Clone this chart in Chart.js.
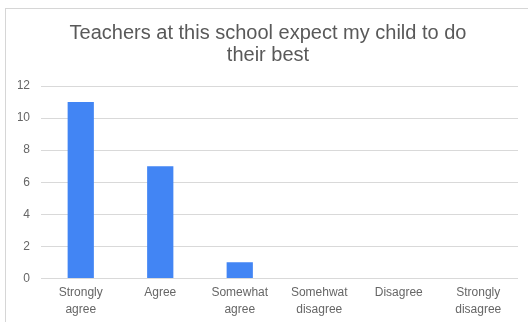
<!DOCTYPE html>
<html>
<head>
<meta charset="utf-8">
<script src="https://cdn.jsdelivr.net/npm/chart.js@4"></script>
<style>
  html, body { margin: 0; padding: 0; background: #fff; }
  #wrap { position: relative; width: 528px; height: 322px; overflow: hidden; }
  #frame { position: absolute; left: 5px; top: 8px; width: 600px; height: 400px; border: 1px solid #d6d6d6; box-sizing: border-box; }
  canvas { position: absolute; left: 0; top: 0; }
</style>
</head>
<body>
<div id="wrap">
  <div id="frame"></div>
  <canvas id="chart" width="528" height="322"></canvas>
</div>
<script>
// chart data
const titleLines = ['Teachers at this school expect my child to do', 'their best'];
const categories = [
    ['Strongly', 'agree'],
    ['Agree'],
    ['Somewhat', 'agree'],
    ['Somehwat', 'disagree'],
    ['Disagree'],
    ['Strongly', 'disagree']
];
const counts = [11, 7, 1, 0, 0, 0];
const yTicks = [0, 2, 4, 6, 8, 10, 12];

const font = "'Liberation Sans', Arial, sans-serif";

const ctx = document.getElementById('chart').getContext('2d');
new Chart(ctx, {
    type: 'bar',
    data: {
        labels: categories,
        datasets: [{
            data: counts,
            backgroundColor: '#4285F4',
            borderWidth: 0,
            categoryPercentage: 1,
            barPercentage: 0.33
        }]
    },
    options: {
        responsive: false,
        animation: false,
        layout: { padding: { left: 18, right: 10, top: 14, bottom: -2 } },
        plugins: {
            legend: { display: false },
            tooltip: { enabled: false },
            title: {
                display: true,
                text: titleLines,
                color: '#595959',
                font: { family: font, size: 20, weight: 'normal', lineHeight: 1.1 },
                padding: { top: 8, bottom: 20 }
            }
        },
        scales: {
            x: {
                grid: { display: false, drawTicks: false },
                border: { display: false },
                ticks: {
                    color: '#666',
                    font: { family: font, size: 12, lineHeight: 1.4 },
                    padding: 6,
                    maxRotation: 0
                }
            },
            y: {
                min: 0,
                max: 12,
                afterBuildTicks: s => { s.ticks = yTicks.map(v => ({ value: v })); },
                afterFit: s => { s.width = 23; },
                grid: { color: '#d9d9d9', drawTicks: false },
                border: { display: false },
                ticks: {
                    color: '#666',
                    font: { family: font, size: 12 },
                    padding: 11
                }
            }
        }
    }
});
</script>
</body>
</html>
